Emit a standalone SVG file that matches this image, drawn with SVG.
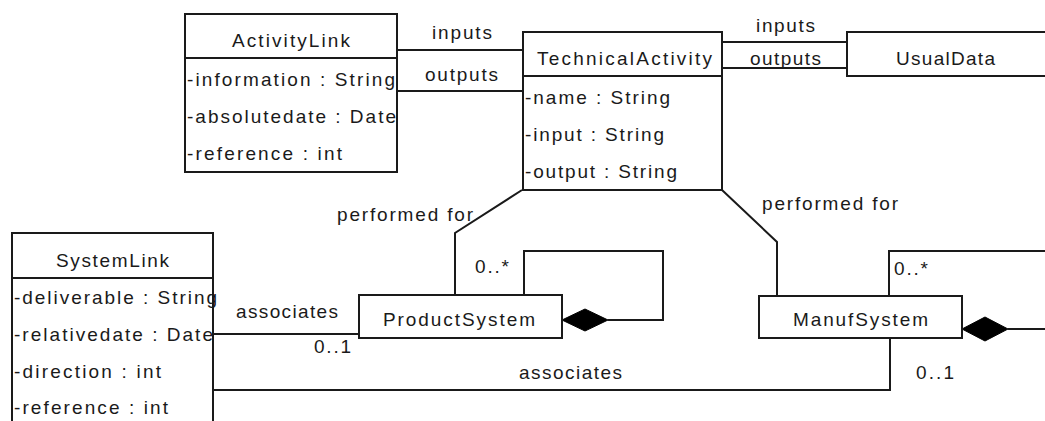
<svg xmlns="http://www.w3.org/2000/svg" width="1045" height="421" viewBox="0 0 1045 421">
<style>
.box{fill:#fff;stroke:#1a1a1a;stroke-width:2}
.ln{fill:none;stroke:#1a1a1a;stroke-width:2}
.dia{fill:#000;stroke:#000;stroke-width:1}
text{font-family:"Liberation Sans",Arial,sans-serif;font-size:19px;fill:#1a1a1a}
</style>
<rect width="1045" height="421" fill="#fff"/>
<g id="connectors">
<polyline class="ln" points="397,50 523,50"/>
<polyline class="ln" points="397,91 523,91"/>
<polyline class="ln" points="722,42 847,42"/>
<polyline class="ln" points="722,68 847,68"/>
<polyline class="ln" points="522,190 455,233 455,295"/>
<polyline class="ln" points="722,190 777,242 777,296"/>
<polyline class="ln" points="213,334 359,334"/>
<polyline class="ln" points="213,390 890,390 890,338"/>
<polyline class="ln" points="524,295 524,251 663,251 663,320 608,320"/>
<polygon class="dia" points="562,320 585,309 608,320 585,331"/>
<polyline class="ln" points="889,296 889,251 1046,251"/>
<polyline class="ln" points="1008,329 1046,329"/>
<polygon class="dia" points="962,329 985,317 1008,329 985,341"/>
<text x="432" y="39" textLength="60" lengthAdjust="spacing">inputs</text>
<text x="425" y="81" textLength="73" lengthAdjust="spacing">outputs</text>
<text x="756" y="32" textLength="59" lengthAdjust="spacing">inputs</text>
<text x="750" y="65" textLength="71" lengthAdjust="spacing">outputs</text>
<text x="337" y="221" textLength="136" lengthAdjust="spacing">performed for</text>
<text x="762" y="210" textLength="136" lengthAdjust="spacing">performed for</text>
<text x="236" y="318" textLength="102" lengthAdjust="spacing">associates</text>
<text x="314" y="353" textLength="37" lengthAdjust="spacing">0..1</text>
<text x="519" y="379" textLength="103" lengthAdjust="spacing">associates</text>
<text x="916" y="379" textLength="38" lengthAdjust="spacing">0..1</text>
<text x="475" y="273" textLength="34" lengthAdjust="spacing">0..*</text>
<text x="894" y="275" textLength="34" lengthAdjust="spacing">0..*</text>
</g>
<g id="ActivityLink">
<rect class="box" x="185" y="14" width="212" height="158"/>
<line class="ln" x1="185" y1="58" x2="397" y2="58"/>
<text x="232" y="47" textLength="118" lengthAdjust="spacing">ActivityLink</text>
<text x="187" y="86" textLength="208" lengthAdjust="spacing">-information : String</text>
<text x="187" y="123" textLength="209" lengthAdjust="spacing">-absolutedate : Date</text>
<text x="187" y="160" textLength="155" lengthAdjust="spacing">-reference : int</text>
</g>
<g id="TechnicalActivity">
<rect class="box" x="523" y="32" width="199" height="158"/>
<line class="ln" x1="523" y1="76" x2="722" y2="76"/>
<text x="537" y="65" textLength="175" lengthAdjust="spacing">TechnicalActivity</text>
<text x="525" y="104" textLength="145" lengthAdjust="spacing">-name : String</text>
<text x="525" y="141" textLength="139" lengthAdjust="spacing">-input : String</text>
<text x="525" y="178" textLength="152" lengthAdjust="spacing">-output : String</text>
</g>
<g id="UsualData">
<rect class="box" x="847" y="32" width="210" height="44"/>
<text x="896" y="65" textLength="99" lengthAdjust="spacing">UsualData</text>
</g>
<g id="SystemLink">
<rect class="box" x="12" y="233" width="201" height="200"/>
<line class="ln" x1="12" y1="278" x2="213" y2="278"/>
<text x="56" y="267" textLength="113" lengthAdjust="spacing">SystemLink</text>
<text x="14" y="304" textLength="203" lengthAdjust="spacing">-deliverable : String</text>
<text x="14" y="341" textLength="199" lengthAdjust="spacing">-relativedate : Date</text>
<text x="14" y="378" textLength="147" lengthAdjust="spacing">-direction : int</text>
<text x="14" y="414" textLength="154" lengthAdjust="spacing">-reference : int</text>
</g>
<g id="ProductSystem">
<rect class="box" x="359" y="295" width="203" height="43"/>
<text x="383" y="326" textLength="152" lengthAdjust="spacing">ProductSystem</text>
</g>
<g id="ManufSystem">
<rect class="box" x="759" y="296" width="203" height="42"/>
<text x="793" y="326" textLength="135" lengthAdjust="spacing">ManufSystem</text>
</g>
</svg>
